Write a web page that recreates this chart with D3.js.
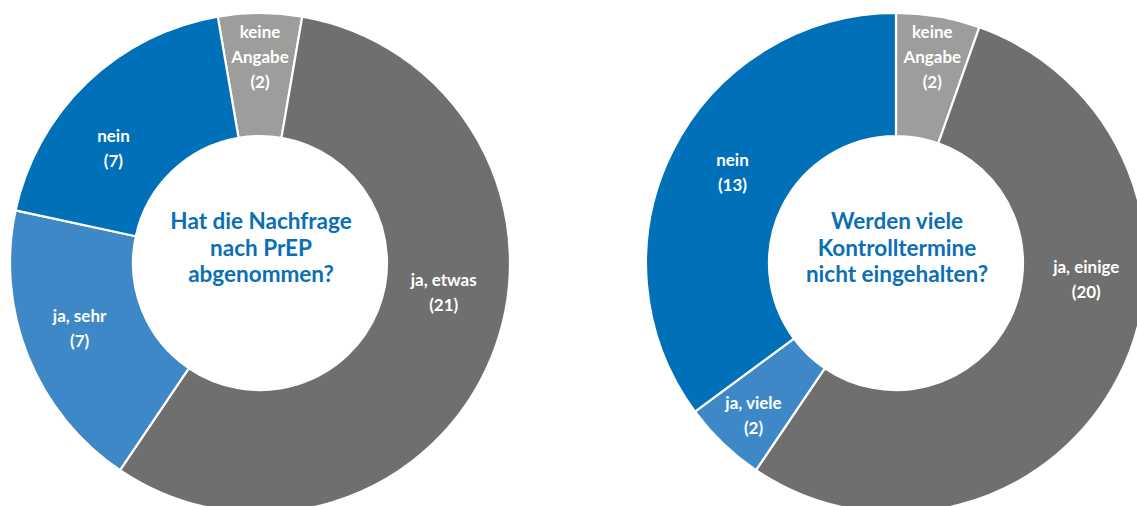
<!DOCTYPE html>
<html>
<head>
<meta charset="utf-8">
<script src="https://cdn.jsdelivr.net/npm/d3@7"></script>
<style>
  html, body { margin: 0; padding: 0; background: #ffffff; }
  svg { display: block; }
</style>
</head>
<body>
<svg id="chart" width="1137" height="506"></svg>
<script>
// Survey answers, one donut per question
const leftQuestion = ["Hat die Nachfrage", "nach PrEP", "abgenommen?"];
const leftCategories = ["keine Angabe", "ja, etwas", "ja, sehr", "nein"];
const leftValues = [2, 21, 7, 7];

const rightQuestion = ["Werden viele", "Kontrolltermine", "nicht eingehalten?"];
const rightCategories = ["keine Angabe", "ja, einige", "ja, viele", "nein"];
const rightValues = [2, 20, 2, 13];

// Slice colours by answer type
const colorByCategory = {
  "keine Angabe": "#9d9d9c",
  "ja, etwas": "#6f6f6f",
  "ja, einige": "#6f6f6f",
  "ja, sehr": "#3f88c8",
  "ja, viele": "#3f88c8",
  "nein": "#0070b8"
};

// Label anchors in polar form (degrees clockwise from top, distance from centre)
const leftLabelLayout = [[0, 206], [99, 186], [250, 192], [308, 186]];
const rightLabelLayout = [[10, 209], [95, 191], [223, 209], [299, 187]];

const svg = d3.select("#chart");
const outerR = 250, innerR = 127;

function drawDonut(cx, cy, categories, values, question, labelLayout, centerFirst) {
  const total = d3.sum(values);
  const start = centerFirst ? -Math.PI * values[0] / total : 0;
  const pie = d3.pie().sort(null).value(d => d.v)
    .startAngle(start).endAngle(start + 2 * Math.PI);
  const arc = d3.arc().innerRadius(innerR).outerRadius(outerR);
  const rows = categories.map((c, i) => ({ c, v: values[i] }));

  const g = svg.append("g").attr("transform", `translate(${cx},${cy})`);

  g.selectAll("path.slice")
    .data(pie(rows))
    .join("path")
    .attr("class", "slice")
    .attr("d", arc)
    .attr("fill", d => colorByCategory[d.data.c])
    .attr("stroke", "#ffffff")
    .attr("stroke-width", 2.2)
    .attr("stroke-linejoin", "round");

  // Slice labels: name (wrapped) and count
  const lineH = 25;
  rows.forEach((r, i) => {
    const [deg, rad] = labelLayout[i];
    const a = deg * Math.PI / 180;
    const x = rad * Math.sin(a), y = -rad * Math.cos(a);
    const lines = (r.c === "keine Angabe" ? ["keine", "Angabe"] : [r.c]).concat([`(${r.v})`]);
    const t = g.append("text")
      .attr("text-anchor", "middle")
      .attr("fill", "#ffffff")
      .attr("font-family", "Lato, 'Open Sans', sans-serif")
      .attr("font-weight", 700)
      .attr("font-size", 17);
    lines.forEach((ln, k) => {
      t.append("tspan")
        .attr("x", x)
        .attr("y", y + (k - (lines.length - 1) / 2) * lineH)
        .attr("dy", "0.35em")
        .text(ln);
    });
  });

  // Question in the hole
  const qH = 26.5;
  const q = g.append("text")
    .attr("text-anchor", "middle")
    .attr("fill", "#0b6fb6")
    .attr("font-family", "Lato, 'Open Sans', sans-serif")
    .attr("font-weight", 700)
    .attr("font-size", 22.5);
  question.forEach((ln, k) => {
    q.append("tspan")
      .attr("x", 1)
      .attr("y", -15 + (k - 1) * qH)
      .attr("dy", "0.35em")
      .text(ln);
  });
}

drawDonut(260, 263, leftCategories, leftValues, leftQuestion, leftLabelLayout, true);
drawDonut(896, 263, rightCategories, rightValues, rightQuestion, rightLabelLayout, false);
</script>
</body>
</html>
